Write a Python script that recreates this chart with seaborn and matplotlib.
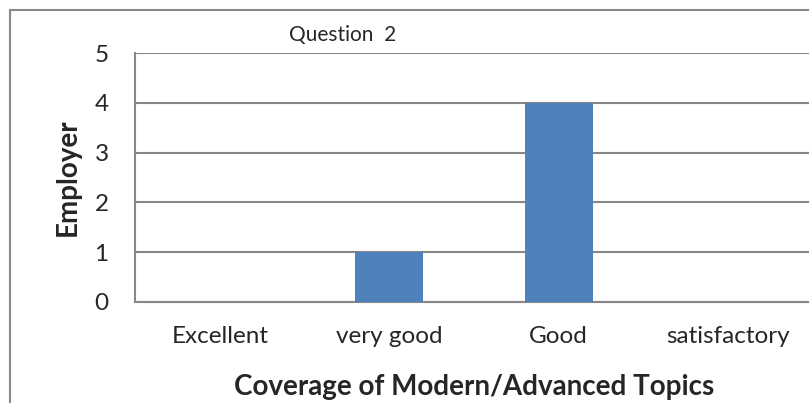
import matplotlib
matplotlib.use('Agg')
import matplotlib.pyplot as plt
import seaborn as sns
import pandas as pd
from matplotlib.patches import Rectangle
from matplotlib.ticker import FixedLocator, NullFormatter

# Data
categories = ['Excellent', 'very good', 'Good', 'satisfactory']
employer = [0, 1, 4, 0]

data = pd.DataFrame({'Rating': categories, 'Employer': employer})

sns.set_style('white')
plt.rcParams['font.family'] = ['Lato', 'DejaVu Sans']

fig = plt.figure(figsize=(8.09, 4.03), dpi=100)
ax = fig.add_axes([135 / 809, 101 / 403, 678 / 809, 249 / 403])

grid_col = '#878787'
ax.set_axisbelow(True)
sns.barplot(x='Rating', y='Employer', data=data, order=categories,
            color='#4F81BD', width=0.4, saturation=1, linewidth=0, ax=ax, zorder=3)

ax.set_ylim(0, 5)
ax.set_xlim(-0.5, 3.5)
ax.set_yticks(range(6))
ax.yaxis.grid(True, color=grid_col, linewidth=1.5)
ax.tick_params(axis='y', length=8, width=1.5, color=grid_col, pad=11, labelsize=17.5)

# category boundary ticks as majors, labels as minors
ax.xaxis.set_major_locator(FixedLocator([-0.5, 0.5, 1.5, 2.5, 3.5]))
ax.xaxis.set_major_formatter(NullFormatter())
ax.xaxis.set_minor_locator(FixedLocator(range(len(categories))))
ax.set_xticklabels(categories, minor=True)
ax.tick_params(axis='x', which='major', length=8, width=1.5, color=grid_col)
ax.tick_params(axis='x', which='minor', length=0, pad=17, labelsize=17.5)

for side in ['top', 'right']:
    ax.spines[side].set_visible(False)
for side in ['left', 'bottom']:
    ax.spines[side].set_color(grid_col)
    ax.spines[side].set_linewidth(1.5)

ax.set_xlabel('Coverage of Modern/Advanced Topics', fontsize=20, fontweight='bold', labelpad=20)
ax.set_ylabel('Employer', fontsize=20, fontweight='bold', labelpad=10)

fig.text(343 / 809, 1 - 35 / 403, 'Question  2', fontsize=15, ha='center', va='center')

# outer chart border
fig.patches.append(Rectangle((10 / 809, -0.1), 1.1, 1 - 10 / 403 + 0.1,
                             transform=fig.transFigure, fill=False,
                             edgecolor='#888888', linewidth=1.5))

fig.savefig('out.png', dpi=100)
